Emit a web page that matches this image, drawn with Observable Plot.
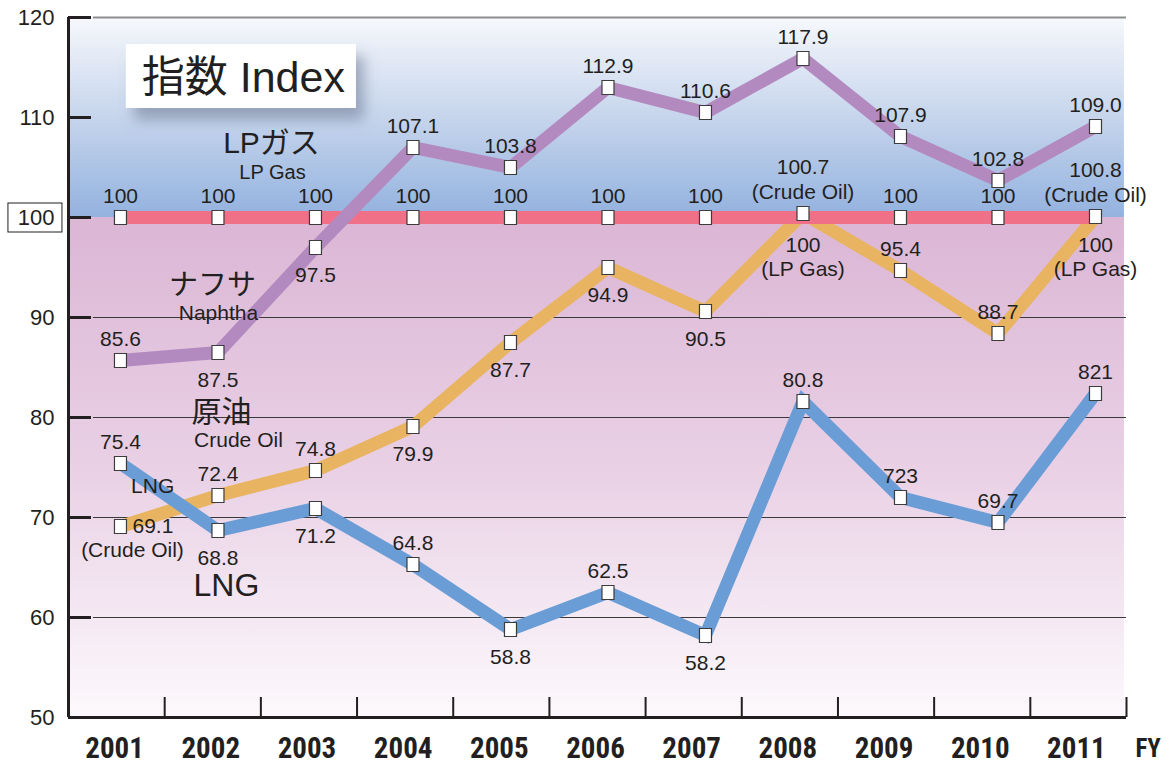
<!DOCTYPE html>
<html><head><meta charset="utf-8">
<script src="https://cdn.jsdelivr.net/npm/d3@7"></script>
<script src="https://cdn.jsdelivr.net/npm/@observablehq/plot@0.6"></script>
<style>body{margin:0;background:#fff;} #chart svg{display:block;}</style>
</head><body><div id="chart"></div>
<script>
// ---------- data ----------
const years = [2001, 2002, 2003, 2004, 2005, 2006, 2007, 2008, 2009, 2010, 2011];
const yTicks = [50, 60, 70, 80, 90, 100, 110, 120];
const gridValues = [60, 70, 80, 90];

// plotted positions
const lpgValues   = [85.7, 86.5, 97.0, 107.0, 105.0, 113.0, 110.5, 115.9, 108.1, 103.7, 109.1];
const baseValues  = [100, 100, 100, 100, 100, 100, 100, 100, 100, 100, 100];
const crudeValues = [69.1, 72.2, 74.7, 79.1, 87.5, 95.0, 90.6, 100.4, 94.7, 88.4, 100.1];
const lngValues   = [75.4, 68.7, 70.9, 65.3, 58.8, 62.5, 58.2, 81.6, 72.0, 69.5, 82.4];

// printed value labels
const lpgLabels   = ["85.6","87.5","97.5","107.1","103.8","112.9","110.6","117.9","107.9","102.8","109.0"];
const lpgSides    = ["a","b","b","a","a","a","a","a","a","a","a"];
const baseLabels  = ["100","100","100","100","100","100","100","100\n(LP Gas)","100","100","100\n(LP Gas)"];
const baseSides   = ["a","a","a","a","a","a","a","b","a","a","b"];
const crudeLabels = ["69.1","72.4","74.8","79.9","87.7","94.9","90.5","100.7\n(Crude Oil)","95.4","88.7","100.8\n(Crude Oil)"];
const crudeSides  = ["r","a","a","b","b","b","b","a","a","a","a"];
const lngLabels   = ["75.4","68.8","71.2","64.8","58.8","62.5","58.2","80.8","723","69.7","821"];
const lngSides    = ["a","b","b","a","b","a","b","a","a","a","a"];

const titleText = "指数 Index";
const unitText = "FY";

// ---------- build tables ----------
function table(series, values, labels, sides) {
  return years.map((year, i) => ({series, year, value: values[i], label: labels[i], side: sides[i]}));
}
const lpg = table("lpg", lpgValues, lpgLabels, lpgSides);
const base = table("base", baseValues, baseLabels, baseSides);
const crude = table("crude", crudeValues, crudeLabels, crudeSides);
const lng = table("lng", lngValues, lngLabels, lngSides);
const allLabels = [...lpg, ...base, ...crude, ...lng];
const allMarkers = [...base.filter((d, i) => crudeValues[i] < 100), ...lpg, ...crude, ...lng];

// ---------- styles ----------
const FONT = "'Liberation Sans', Arial, Helvetica, 'Noto Sans CJK JP', sans-serif";
const NARROW = "'Liberation Sans Narrow', 'Arial Narrow', 'Roboto Condensed', 'DejaVu Sans Condensed', sans-serif";
const INK = "#231f20";
const xDomain = [2000.467, 2011.318];
const bandW = (xDomain[1] - xDomain[0]) / years.length;
const bandCenter = (i) => xDomain[0] + (i + 0.5) * bandW;
const bandEdges = years.map((y, i) => xDomain[0] + (i + 1) * bandW);
const gridStart = 2000.723;
const tickEnd = 2000.703;
const bgEnd = 2011.297;

const box = {draw(ctx) { ctx.moveTo(-6, -7); ctx.lineTo(6, -7); ctx.lineTo(6, 7); ctx.lineTo(-6, 7); ctx.closePath(); }};

const lineOpts = (color) => ({x: "year", y: "value", stroke: color, strokeWidth: 13, strokeLinejoin: "miter", strokeMiterlimit: 10, strokeLinecap: "butt"});

const chart = Plot.plot({
  width: 1173,
  height: 763,
  marginLeft: 68,
  marginRight: 47,
  marginTop: 17,
  marginBottom: 46,
  style: {fontFamily: FONT, color: INK, background: "white", overflow: "visible"},
  x: {type: "linear", domain: xDomain, axis: null},
  y: {domain: [50, 120], axis: null},
  marks: [
    // backgrounds
    Plot.rect([0], {x1: () => xDomain[0], x2: () => bgEnd, y1: () => 100, y2: () => 120, fill: "#a0bce3", ariaLabel: () => "bg-top"}),
    Plot.rect([0], {x1: () => xDomain[0], x2: () => bgEnd, y1: () => 50, y2: () => 100, fill: "#e6c8e0", ariaLabel: () => "bg-bottom"}),
    // title box
    Plot.rect([0], {x1: () => 2001.06, x2: () => 2003.42, y1: () => 110.9, y2: () => 117.3, fill: "white", ariaLabel: () => "titlebox"}),
    Plot.text([titleText], {x: () => 2002.26, y: () => 113.9, text: d => d, fontSize: 43, fill: INK, lineAnchor: "middle"}),
    // grid
    Plot.ruleY(gridValues, {x1: () => gridStart, x2: () => xDomain[1], stroke: "#3a3a3a", strokeWidth: 1}),
    Plot.ruleY([120], {x1: () => gridStart, x2: () => xDomain[1], stroke: "#8d8d8d", strokeWidth: 2}),
    // axes
    Plot.ruleX([xDomain[0]], {y1: 50, y2: 120, stroke: INK, strokeWidth: 3}),
    Plot.ruleY([50], {x1: () => xDomain[0], x2: () => xDomain[1], stroke: INK, strokeWidth: 3}),
    Plot.ruleY(yTicks, {x1: () => xDomain[0], x2: () => tickEnd, stroke: INK, strokeWidth: 3}),
    Plot.ruleX(bandEdges, {y1: () => 50, y2: () => 52, stroke: INK, strokeWidth: 2}),
    // y tick labels
    Plot.rect([100], {x1: () => 1999.851, x2: () => 2000.405, y1: () => 98.5, y2: () => 101.4, fill: "white", stroke: INK, strokeWidth: 1}),
    Plot.text(yTicks, {frameAnchor: "left", y: d => d, text: d => String(d), dx: -14, textAnchor: "end", fontSize: 22, fill: INK}),
    // x tick labels
    Plot.text(years, {x: (d, i) => bandCenter(i), y: () => 50, dy: 31, dx: -2, text: d => String(d), fontSize: 29, fontWeight: "bold", fontFamily: NARROW, fill: INK}),
    Plot.text([unitText], {x: () => 2011.54, y: () => 50, dy: 31, text: d => d, fontSize: 25, fontWeight: "bold", fontFamily: NARROW, fill: INK}),
    // lines
    Plot.line(crude, lineOpts("#e8b461")),
    Plot.line(base, lineOpts("#f07088")),
    Plot.line(lpg, lineOpts("#b38abf")),
    Plot.line(lng, lineOpts("#6a9dd5")),
    // markers
    Plot.dot(allMarkers, {x: "year", y: "value", symbol: box, r: 4, fill: "white", stroke: "#3c3c3c", strokeWidth: 1.2}),
    // value labels
    Plot.text(allLabels.filter(d => d.side === "a"), {x: "year", y: "value", text: "label", lineAnchor: "bottom", dy: -15, fontSize: 21, lineHeight: 1.15, fill: INK}),
    Plot.text(allLabels.filter(d => d.side === "b"), {x: "year", y: "value", text: "label", lineAnchor: "top", dy: 17, fontSize: 21, lineHeight: 1.15, fill: INK}),
    Plot.text(allLabels.filter(d => d.side === "r"), {x: "year", y: "value", text: "label", textAnchor: "start", dx: 12, fontSize: 21, fill: INK}),
    Plot.text(["(Crude Oil)"], {x: () => 2001, y: () => 69.1, dx: 12, dy: 24, text: d => d, fontSize: 21, fill: INK}),
    // series names
    Plot.text(["LPガス"], {x: () => 2002.549, y: () => 107.4, text: d => d, fontSize: 30, fill: INK}),
    Plot.text(["LP Gas"], {x: () => 2002.559, y: () => 104.5, text: d => d, fontSize: 20, fill: INK}),
    Plot.text(["ナフサ"], {x: () => 2001.944, y: () => 93.2, text: d => d, fontSize: 29, fill: INK}),
    Plot.text(["Naphtha"], {x: () => 2002.005, y: () => 90.4, text: d => d, fontSize: 21, fill: INK}),
    Plot.text(["原油"], {x: () => 2002.036, y: () => 80.5, text: d => d, fontSize: 30, fill: INK}),
    Plot.text(["Crude Oil"], {x: () => 2002.21, y: () => 77.7, text: d => d, fontSize: 21, fill: INK}),
    Plot.text(["LNG"], {x: () => 2001.33, y: () => 73.1, text: d => d, fontSize: 21, fill: INK}),
    Plot.text(["LNG"], {x: () => 2002.087, y: () => 63.2, text: d => d, fontSize: 32, fill: INK})
  ]
});

// gradients and shadow
const svg = d3.select(chart);
const defs = svg.insert("defs", ":first-child");
const gTop = defs.append("linearGradient").attr("id", "gTop").attr("x1", 0).attr("y1", 0).attr("x2", 0).attr("y2", 1);
gTop.append("stop").attr("offset", "0%").attr("stop-color", "#f6f8fc");
gTop.append("stop").attr("offset", "50%").attr("stop-color", "#c6d5ec");
gTop.append("stop").attr("offset", "100%").attr("stop-color", "#93b2df");
const gBot = defs.append("linearGradient").attr("id", "gBot").attr("x1", 0).attr("y1", 0).attr("x2", 0).attr("y2", 1);
gBot.append("stop").attr("offset", "0%").attr("stop-color", "#dbb6d5");
gBot.append("stop").attr("offset", "50%").attr("stop-color", "#e9d0e5");
gBot.append("stop").attr("offset", "100%").attr("stop-color", "#fcf9fc");
const f = defs.append("filter").attr("id", "shadow").attr("x", "-20%").attr("y", "-30%").attr("width", "150%").attr("height", "190%");
f.append("feDropShadow").attr("dx", 8).attr("dy", 12).attr("stdDeviation", 7).attr("flood-color", "#6a7690").attr("flood-opacity", 0.55);
function paint(label, attr, value) {
  svg.selectAll(`[aria-label="${label}"]`).each(function () {
    const el = d3.select(this);
    if (this.tagName.toLowerCase() === "rect") el.attr(attr, value);
    el.selectAll("rect").attr(attr, value);
  });
}
paint("bg-top", "fill", "url(#gTop)");
paint("bg-bottom", "fill", "url(#gBot)");
paint("titlebox", "filter", "url(#shadow)");

document.getElementById("chart").append(chart);
</script>
</body></html>
